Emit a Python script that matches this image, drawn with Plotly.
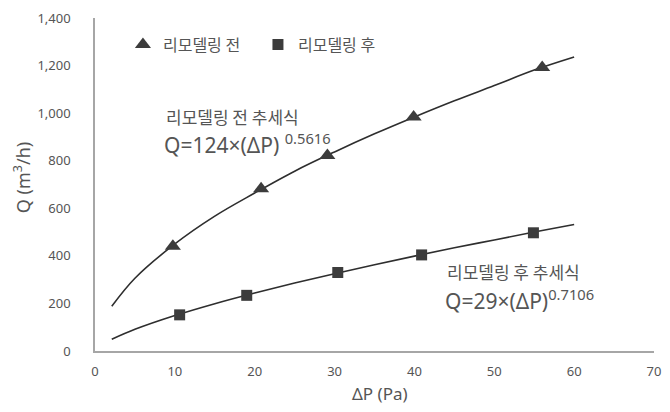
import plotly.graph_objects as go

before_dp = [9.75, 20.8, 29.1, 39.9, 56.0]
before_q = [440, 682, 822, 984, 1192]
after_dp = [10.6, 19.0, 30.4, 40.9, 54.9]
after_q = [152, 234, 330, 404, 497]

# Trend lines
trend_dp = [2.1, 5, 10, 15, 20, 25, 30, 35, 40, 45, 50, 55, 60]
trend_before_q = [188, 306, 450, 567, 664, 756, 837, 913, 984, 1052, 1116, 1181, 1236]
trend_after_q = [49, 91, 149, 199, 244, 286, 325, 363, 399, 434, 467, 500, 532]

series_names = ["리모델링 전", "리모델링 후"]
x_ticks = [0, 10, 20, 30, 40, 50, 60, 70]
y_ticks = [0, 200, 400, 600, 800, 1000, 1200, 1400]

TXT = "#555555"
LINE = "#2e2e2e"
MARK = "#3c3c3c"
FONT = "Noto Sans CJK KR"
LATIN = "Noto Sans"

fig = go.Figure()
fig.add_trace(go.Scatter(x=trend_dp, y=trend_before_q, mode="lines", line=dict(color=LINE, width=1.6, shape="spline"),
                         showlegend=False, hoverinfo="skip"))
fig.add_trace(go.Scatter(x=trend_dp, y=trend_after_q, mode="lines", line=dict(color=LINE, width=1.6, shape="spline"),
                         showlegend=False, hoverinfo="skip"))
fig.add_trace(go.Scatter(x=before_dp, y=before_q, mode="markers", name=series_names[0],
                         marker=dict(symbol="triangle-up", size=14, color=MARK)))
fig.add_trace(go.Scatter(x=after_dp, y=after_q, mode="markers", name=series_names[1],
                         marker=dict(symbol="square", size=11, color=MARK)))

# page body adds an 8px margin on every side, so the figure is sized to fit inside it
fig.update_layout(
    width=654, height=396,
    margin=dict(l=87, r=8, t=10, b=53, autoexpand=False),
    paper_bgcolor="white", plot_bgcolor="white",
    font=dict(family=FONT, color=TXT, size=13),
    legend=dict(orientation="h", x=0.05, y=0.92, xanchor="left", yanchor="middle",
                font=dict(size=16, color=TXT), itemwidth=30, entrywidth=90, tracegroupgap=0,
                bgcolor="rgba(0,0,0,0)"),
    xaxis=dict(range=[0, 70], tickvals=x_ticks, showgrid=False, zeroline=False, automargin=False,
               showline=True, linecolor="#a6a6a6", linewidth=1.5, ticks="",
               ticklabelstandoff=8, tickfont=dict(size=13, color=TXT, family=LATIN)),
    yaxis=dict(range=[0, 1400], tickvals=y_ticks, tickformat=",d", showgrid=False, zeroline=False,
               automargin=False,
               showline=True, linecolor="#a6a6a6", linewidth=1.5, ticks="",
               ticklabelstandoff=20, tickfont=dict(size=13, color=TXT, family=LATIN)),
)

ann = [
    dict(x=0.51, y=-0.128, xref="paper", yref="paper", text="ΔP (Pa)", showarrow=False,
         font=dict(size=17, color=TXT, family=LATIN), xanchor="center", yanchor="middle"),
    dict(x=-0.13, y=0.52, xref="paper", yref="paper", text="Q (m<sup>3</sup>/h)", showarrow=False,
         font=dict(size=18, color=TXT, family=LATIN), textangle=-90, xanchor="center", yanchor="middle"),
    dict(x=8.6, y=984, xref="x", yref="y", text="리모델링 전 추세식", showarrow=False,
         font=dict(size=17, color=TXT), xanchor="left", yanchor="middle"),
    dict(x=8.4, y=874, xref="x", yref="y", text="Q=124×(ΔP) <sup>0.5616</sup>", showarrow=False,
         font=dict(size=21, color=TXT, family=LATIN), xanchor="left", yanchor="middle"),
    dict(x=43.8, y=334, xref="x", yref="y", text="리모델링 후 추세식", showarrow=False,
         font=dict(size=17, color=TXT), xanchor="left", yanchor="middle"),
    dict(x=43.6, y=218, xref="x", yref="y", text="Q=29×(ΔP)<sup>0.7106</sup>", showarrow=False,
         font=dict(size=21, color=TXT, family=LATIN), xanchor="left", yanchor="middle"),
]
fig.update_layout(annotations=ann)

fig.write_html("out.html")
